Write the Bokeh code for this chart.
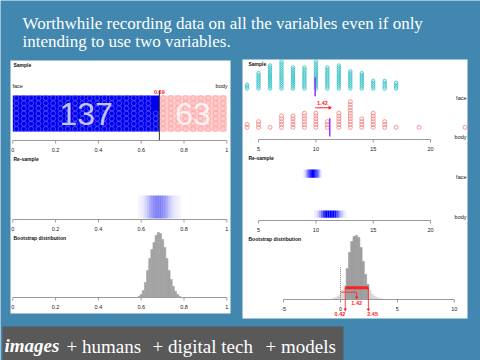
import numpy as np
from bokeh.plotting import figure
from bokeh.models import Range1d
from bokeh.core.properties import value
from bokeh.embed import file_html
from bokeh.resources import INLINE

# ---------------- data ----------------
title_lines = ["Worthwhile recording data on all the variables even if only",
               "intending to use two variables."]
footer_script = "images"
footer_parts = ["+ humans", "+ digital tech", "+ models"]

groups = ["face", "body"]
group_counts = [137, 63]
prop_ticks = [0, 0.2, 0.4, 0.6, 0.8, 1]
prop_tick_labels = ["0", "0.2", "0.4", "0.6", "0.8", "1"]

boot_prop_x = [0.59, 0.60, 0.61, 0.62, 0.63, 0.64, 0.65, 0.66, 0.67, 0.68,
               0.69, 0.70, 0.71, 0.72, 0.73, 0.74, 0.75, 0.76, 0.77, 0.78]
boot_prop_n = [1, 3, 7, 15, 27, 39, 48, 55, 62, 65,
               64, 58, 50, 39, 27, 18, 11, 6, 3, 1]

sample_values = [4, 5, 6, 7, 8, 9, 10, 11, 12, 13, 14, 15, 16, 17, 19, 23]
face_counts = [3, 9, 13, 15, 12, 12, 15, 12, 13, 10, 9, 5, 5, 4, 0, 0]
body_counts = [2, 3, 1, 5, 5, 6, 6, 3, 6, 10, 4, 6, 3, 1, 1, 1]
value_ticks = [5, 10, 15, 20]
value_tick_labels = ["5", "10", "15", "20"]

face_resample_x = [8.9, 9.0, 9.1, 9.2, 9.3, 9.4, 9.5, 9.6, 9.7, 9.8, 9.9,
                   10.0, 10.1, 10.2, 10.3, 10.4, 10.5]
face_resample_w = [0.05, 0.1, 0.2, 0.35, 0.6, 0.85, 1, 1, 1, 1, 1,
                   0.95, 0.8, 0.55, 0.3, 0.15, 0.05]
body_resample_x = [9.9, 10.05, 10.2, 10.35, 10.5, 10.65, 10.8, 10.95, 11.1, 11.25,
                   11.4, 11.55, 11.7, 11.85, 12.0, 12.15, 12.3, 12.45, 12.6]
body_resample_w = [0.05, 0.1, 0.2, 0.35, 0.55, 0.8, 0.95, 1, 1, 1,
                   1, 1, 0.9, 0.7, 0.5, 0.3, 0.2, 0.1, 0.05]

diff_ticks = [-5, 0, 5, 10]
diff_tick_labels = ["-5", "0", "5", "10"]
boot_diff_x = [-0.6, -0.4, -0.2, 0.0, 0.2, 0.4, 0.6, 0.8, 1.0, 1.2, 1.4,
               1.6, 1.8, 2.0, 2.2, 2.4, 2.6, 2.8, 3.0, 3.2, 3.4, 3.6]
boot_diff_n = [1, 2, 3, 5, 9, 14, 31, 47, 58, 63, 64,
               62, 52, 38, 25, 15, 9, 5, 3, 2, 1, 1]
diff_obs = 1.42
diff_ci = [0.42, 2.45]

# ---------------- styling ----------------
M = 0
W, H = 480, 360
BG = "#4187B0"
SANS = "Liberation Sans"
SERIF = "Liberation Serif"

p = figure(width=W - 2 * M, height=H - 2 * M,
           x_range=Range1d(M, W - M), y_range=Range1d(H - M, M),
           output_backend="svg", toolbar_location=None, min_border=0,
           x_axis_location=None, y_axis_location=None,
           background_fill_color=BG, border_fill_color=BG, outline_line_color=None)
p.grid.visible = False


def sub(xs, xt, ys=(0, 360), yt=(0, 360)):
    return p.subplot(x_source=Range1d(*xs), x_target=Range1d(*xt),
                     y_source=Range1d(*ys), y_target=Range1d(*yt))


def txt(g, x, y, s, size, color="#111111", align="left", bold=False,
        font=SANS, baseline="middle", italic=False):
    style = "bold" if bold else "normal"
    if italic:
        style = "bold italic" if bold else "italic"
    g.text(x=list(x), y=list(y), text=list(s), text_font=value(font),
           text_font_size=f"{size}px", text_color=color, text_align=align,
           text_baseline=baseline, text_font_style=style)


def axis(g, lo, hi, ticks, labels, y):
    n = len(ticks)
    g.segment(x0=[lo], x1=[hi], y0=[y], y1=[y], line_color="#9a9a9a", line_width=1)
    g.segment(x0=ticks, x1=ticks, y0=[y] * n, y1=[y + 3] * n,
              line_color="#9a9a9a", line_width=1)
    txt(g, ticks, [y + 9] * n, labels, 5.5, color="#222222", align="center")


# ---------------- slide ----------------
p.quad(left=[10, 242], right=[230, 467], top=[60, 59], bottom=[313, 318],
       fill_color="white", line_color=None)
p.quad(left=[2], right=[343], top=[326], bottom=[361], fill_color="#595959", line_color=None)
txt(p, [22, 22], [22.8, 41.0], title_lines, 17, color="white", font=SERIF)
txt(p, [4], [345], [footer_script], 19, color="white", font=SERIF, bold=True, italic=True)
txt(p, [66, 152, 265], [345.5] * 3, footer_parts, 19, color="white", font=SERIF)

# ---------------- left panel ----------------
LX, LXT = (0, 1), (12.3, 226.3)
lpx = sub(LX, LXT)
rows = 7
p_face = group_counts[0] / sum(group_counts)

lbar = sub(LX, LXT, (0, rows), (131, 95))
lbar.quad(left=[0, p_face], right=[p_face, 1], bottom=[0, 0], top=[rows, rows],
          fill_color=["#0000EE", "#FFCCCC"], line_color=None)
ncol_f = -(-group_counts[0] // rows)
ncol_b = -(-group_counts[1] // rows)
fx = [(k // rows + 0.5) * p_face / ncol_f for k in range(group_counts[0])]
fy = [k % rows + 0.5 for k in range(group_counts[0])]
bx = [p_face + (k // rows + 0.5) * (1 - p_face) / ncol_b for k in range(group_counts[1])]
by = [k % rows + 0.5 for k in range(group_counts[1])]
lbar.scatter(fx, fy, size=5, marker="circle", fill_color=None,
             line_color="#5555FF", line_width=0.8)
lbar.scatter(bx, by, size=5, marker="circle", fill_color=None,
             line_color="#FF9E9E", line_width=0.8)
txt(lbar, [p_face / 2, (1 + p_face) / 2], [3.4, 3.4], [str(c) for c in group_counts],
    32, color=["#C4C4F6", "#FFF2F2"], align="center")

txt(p, [13], [64.5], ["Sample"], 5, bold=True)
txt(p, [12], [85], [groups[0]], 5.5)
txt(p, [227], [85], [groups[1]], 5.5, align="right")
txt(lpx, [p_face], [91], [f"{p_face:.2f}"], 5.5, color="#FF2020", align="center", bold=True)
lpx.segment(x0=[p_face], x1=[p_face], y0=[90], y1=[140], line_color="#333333", line_width=1)
axis(lpx, 0, 1, prop_ticks, prop_tick_labels, 140)

# re-sample
txt(p, [13], [158], ["Re-sample"], 5, bold=True)
mx = max(boot_prop_n)
lpx.quad(left=[x - 0.005 for x in boot_prop_x], right=[x + 0.005 for x in boot_prop_x],
         top=[195] * len(boot_prop_x), bottom=[218] * len(boot_prop_x),
         fill_color="#2020F0", fill_alpha=[0.04 + 0.55 * n / mx for n in boot_prop_n],
         line_color=None)
axis(lpx, 0, 1, prop_ticks, prop_tick_labels, 219)

# bootstrap distribution
txt(p, [13], [237], ["Bootstrap distribution"], 5, bold=True)
lboot = sub(LX, LXT, (0, 65), (297, 232))
lboot.vbar(x=boot_prop_x, width=0.01, top=boot_prop_n, bottom=0,
           fill_color="#A3A3A3", line_color="#A3A3A3", line_width=0.6)
axis(lpx, 0, 1, prop_ticks, prop_tick_labels, 297)

# ---------------- right panel ----------------
RX, RXT = (0, 20), (200.7, 430.1)
rpx = sub(RX, RXT)
rface = sub(RX, RXT, (0, 1), (89, 87.08))
rbody = sub(RX, RXT, (0, 1), (128.3, 125.45))
sfx, sfy, sbx, sby = [], [], [], []
for v, cf, cb in zip(sample_values, face_counts, body_counts):
    sfx += [v] * cf
    sfy += [k + 0.5 for k in range(cf)]
    sbx += [v] * cb
    sby += [k + 0.5 for k in range(cb)]
rface.scatter(sfx, sfy, size=3.4, marker="circle", fill_color=None,
              line_color="#3CC4C8", line_width=0.9)
rbody.scatter(sbx, sby, size=4, marker="circle", fill_color=None,
              line_color="#F48A8A", line_width=0.9)
face_mean = np.average(sample_values, weights=face_counts)
body_mean = np.average(sample_values, weights=body_counts)
rpx.segment(x0=[face_mean, body_mean], x1=[face_mean, body_mean], y0=[76.7, 117.7],
            y1=[95.7, 136], line_color="#9B30FF", line_width=1.5)
rpx.segment(x0=[face_mean], x1=[body_mean], y0=[107.3], y1=[107.3],
            line_color="#FF2020", line_width=1)
rpx.scatter(x=[body_mean], y=[107.3], marker="triangle", angle=-np.pi / 2, size=4,
            fill_color="#FF2020", line_color=None)
txt(rpx, [(face_mean + body_mean) / 2], [102.3], [f"{diff_obs:.2f}"], 5.5,
    color="#FF2020", align="center", bold=True)
txt(p, [248], [63], ["Sample"], 5, bold=True)
txt(p, [466, 466], [97.3, 136.7], groups, 5.5, align="right")
axis(rpx, 5, 20, value_ticks, value_tick_labels, 139)

# re-sample
txt(p, [248], [157.7], ["Re-sample"], 5, bold=True)
rpx.quad(left=[x - 0.05 for x in face_resample_x], right=[x + 0.05 for x in face_resample_x],
         top=[169] * len(face_resample_x), bottom=[177.3] * len(face_resample_x),
         fill_color="#0000FF", fill_alpha=face_resample_w, line_color=None)
rpx.quad(left=[x - 0.075 for x in body_resample_x], right=[x + 0.075 for x in body_resample_x],
         top=[210] * len(body_resample_x), bottom=[217.3] * len(body_resample_x),
         fill_color="#0000FF", fill_alpha=body_resample_w, line_color=None)
txt(p, [466, 466], [176.7, 216.7], groups, 5.5, align="right")
axis(rpx, 5, 20, value_ticks, value_tick_labels, 220)

# bootstrap distribution of differences
txt(p, [248], [238.3], ["Bootstrap distribution"], 5, bold=True)
RB, RBT = (0, 10), (340, 453.8)
rbpx = sub(RB, RBT)
rbc = sub(RB, RBT, (0, 64), (299, 235))
shade = ["#9E9E9E" if diff_ci[0] <= x <= diff_ci[1] else "#D6D6D6" for x in boot_diff_x]
rbc.vbar(x=boot_diff_x, width=0.2, top=boot_diff_n, bottom=0,
         fill_color=shade, line_color=shade, line_width=0.6)
rbpx.segment(x0=[0], x1=[0], y0=[266.7], y1=[299], line_color="#888888",
             line_width=1, line_dash="1 1")
axis(rbpx, -5, 10, diff_ticks, diff_tick_labels, 299)
RED = "#FF2020"
rbpx.segment(x0=[diff_ci[0]], x1=[diff_ci[1]], y0=[287.3], y1=[287.3], line_color=RED, line_width=3)
rbpx.segment(x0=[0, diff_obs], x1=[diff_obs, diff_obs], y0=[291.7, 291.7], y1=[291.7, 297],
             line_color=RED, line_width=0.8)
rbpx.segment(x0=diff_ci, x1=diff_ci, y0=[287.3, 287.3], y1=[309, 309], line_color=RED, line_width=0.8)
rbpx.scatter(x=diff_ci + [diff_obs], y=[309, 309, 297], marker="inverted_triangle", size=3.5,
             fill_color=RED, line_color=None)
txt(rbpx, [diff_obs], [302.3], [f"{diff_obs:.2f}"], 5.5, color=RED, align="center", bold=True)
txt(rbpx, [diff_ci[0]], [313.3], [f"{diff_ci[0]:.2f}"], 5.5, color=RED, align="right", bold=True)
txt(rbpx, [diff_ci[1] - 0.1], [313.3], [f"{diff_ci[1]:.2f}"], 5.5, color=RED, align="left", bold=True)

open("out.html", "w").write(file_html(p, INLINE))
